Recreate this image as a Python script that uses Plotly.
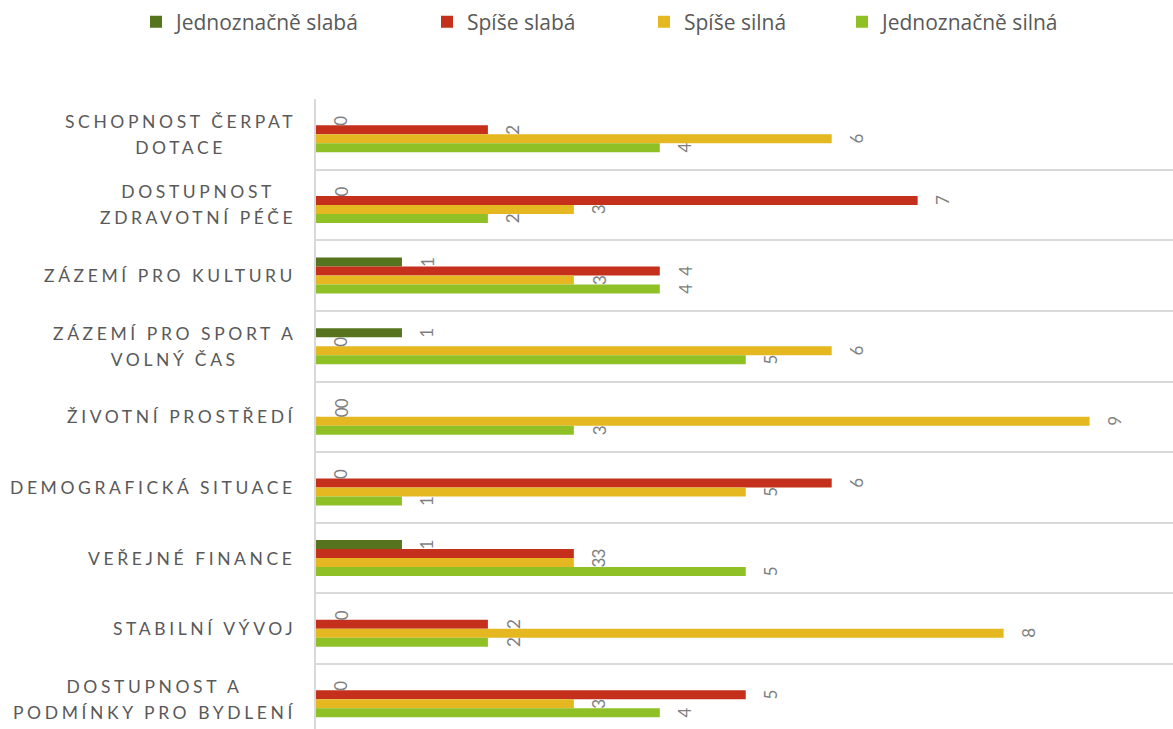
import plotly.graph_objects as go

# ---- data ----
categories = [
    "SCHOPNOST ČERPAT DOTACE",
    "DOSTUPNOST ZDRAVOTNÍ PÉČE",
    "ZÁZEMÍ PRO KULTURU",
    "ZÁZEMÍ PRO SPORT A VOLNÝ ČAS",
    "ŽIVOTNÍ PROSTŘEDÍ",
    "DEMOGRAFICKÁ SITUACE",
    "VEŘEJNÉ FINANCE",
    "STABILNÍ VÝVOJ",
    "DOSTUPNOST A PODMÍNKY PRO BYDLENÍ",
]
category_display = [
    ["SCHOPNOST ČERPAT", "DOTACE"],
    ["DOSTUPNOST", "ZDRAVOTNÍ PÉČE"],
    ["ZÁZEMÍ PRO KULTURU"],
    ["ZÁZEMÍ PRO SPORT A", "VOLNÝ ČAS"],
    ["ŽIVOTNÍ PROSTŘEDÍ"],
    ["DEMOGRAFICKÁ SITUACE"],
    ["VEŘEJNÉ FINANCE"],
    ["STABILNÍ VÝVOJ"],
    ["DOSTUPNOST A", "PODMÍNKY PRO BYDLENÍ"],
]
series_names = ["Jednoznačně slabá", "Spíše slabá", "Spíše silná", "Jednoznačně silná"]
jednoznacne_slaba = [0, 0, 1, 1, 0, 0, 1, 0, 0]
spise_slaba = [2, 7, 4, 0, 0, 6, 3, 2, 5]
spise_silna = [6, 3, 3, 6, 9, 5, 3, 8, 3]
jednoznacne_silna = [4, 2, 4, 5, 3, 1, 5, 2, 4]
series_values = [jednoznacne_slaba, spise_slaba, spise_silna, jednoznacne_silna]
colors = ["#56731D", "#C4301B", "#E5B720", "#8FC026"]

# ---- style ----
FONT = "Lato"
LABEL_GREY = "#595959"
VALUE_GREY = "#7F7F7F"
BARGAP = 0.49
legend_text_x_px = [176, 467, 684, 882]

W, H = 1173, 729
ML, MT = 316, 99
plot_w = W - ML
plot_h = H - MT

fig = go.Figure()
legend_ids = ["legend", "legend2", "legend3", "legend4"]
for k, (name, vals, col) in enumerate(zip(series_names, series_values, colors)):
    fig.add_trace(go.Bar(
        y=categories, x=vals, orientation="h", name=name,
        marker=dict(color=col, line=dict(width=0)),
        legend=legend_ids[k], hoverinfo="x+name",
    ))

n_series = len(series_values)
bw = (1 - BARGAP) / n_series
annotations = []
for k, vals in enumerate(series_values):
    for i, v in enumerate(vals):
        annotations.append(dict(
            x=v, y=i - (1 - BARGAP) / 2 + (k + 0.5) * bw,
            xref="x", yref="y", text=str(v), showarrow=False,
            textangle=-90, xanchor="center", yanchor="middle", xshift=25,
            font=dict(family=FONT, size=17, color=VALUE_GREY),
        ))

for i, lines in enumerate(category_display):
    txt = "<br>".join(
        '<span style="font-size:17.5px;letter-spacing:3.6px">%s</span>' % ln for ln in lines)
    annotations.append(dict(
        x=0, y=i, xref="paper", yref="y", text=txt, showarrow=False,
        xanchor="right", yanchor="middle", align="center", xshift=-18,
        font=dict(family=FONT, size=20, color=LABEL_GREY),
    ))

layout_legends = {}
for k, lid in enumerate(legend_ids):
    layout_legends[lid] = dict(
        orientation="h", x=(legend_text_x_px[k] - 40 - ML) / plot_w, xanchor="left",
        y=(H - 22) / plot_h, yanchor="middle", yref="paper", xref="paper",
        font=dict(family="Open Sans", size=21, color=LABEL_GREY),
        bgcolor="rgba(0,0,0,0)", borderwidth=0,
    )

fig.update_layout(
    width=W, height=H,
    margin=dict(l=ML, r=0, t=MT, b=0, pad=0),
    paper_bgcolor="white", plot_bgcolor="white",
    barmode="group", bargap=BARGAP, bargroupgap=0,
    showlegend=True,
    font=dict(family=FONT, color=LABEL_GREY),
    xaxis=dict(range=[0, plot_w / 85.95], visible=False, fixedrange=True),
    yaxis=dict(
        type="category", categoryorder="array", categoryarray=categories,
        range=[8.5 - (99 + 9 * 70.625 - H) / 70.625, -0.5],
        tickson="boundaries", showgrid=True, gridcolor="#D9D9D9", gridwidth=1.5,
        showticklabels=False, ticks="",
        showline=True, linecolor="#D9D9D9", linewidth=1.5,
        zeroline=False, fixedrange=True,
    ),
    annotations=annotations,
    **layout_legends,
)

fig.write_html(
    "out.html",
    config={"displayModeBar": False},
    post_script="document.body.style.margin='0';"
                "document.documentElement.style.overflow='hidden';",
)
